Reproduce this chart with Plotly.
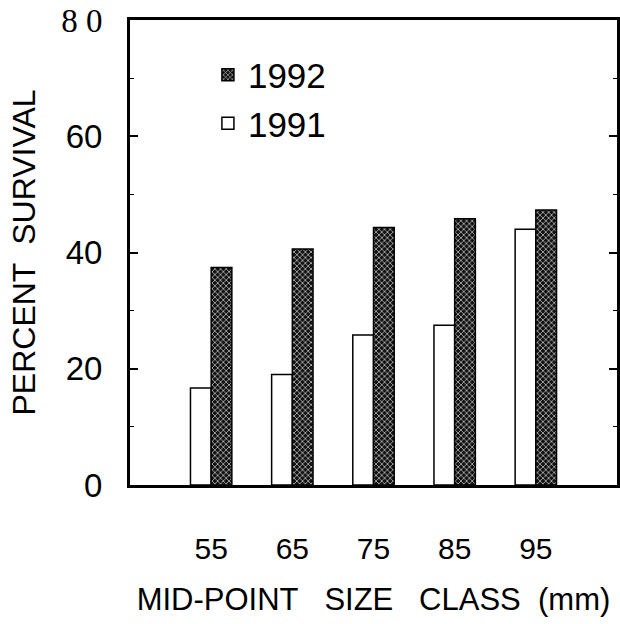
import plotly.graph_objects as go

size_classes = ["55", "65", "75", "85", "95"]
survival_1991 = [16.7, 19.0, 25.8, 27.5, 44.0]
survival_1992 = [37.4, 40.6, 44.3, 45.8, 47.3]
y_tickvals = [0, 20, 40, 60, 80]
y_ticktext = ["0", "20", "40", "60",
              '<span style="font-family:\'Liberation Serif\'">8 0</span>']

SANS = "Liberation Sans"

fig = go.Figure()
fig.add_trace(go.Bar(
    name="1991", x=size_classes, y=survival_1991,
    marker=dict(color="white", line=dict(color="black", width=1.5)),
))
fig.add_trace(go.Bar(
    name="1992", x=size_classes, y=survival_1992,
    marker=dict(
        color="#222222",
        line=dict(color="black", width=1.5),
        pattern=dict(shape="x", bgcolor="#111111", fgcolor="#e0e0e0",
                     size=4, solidity=0.3, fillmode="replace"),
    ),
))

fig.update_layout(
    width=620, height=624,
    margin=dict(l=130, r=0, t=20, b=139),
    paper_bgcolor="white", plot_bgcolor="white",
    barmode="group", bargap=0.49, bargroupgap=0,
    showlegend=True,
    legend=dict(
        x=0.16, y=0.945, xanchor="left", yanchor="top",
        traceorder="reversed", bgcolor="rgba(0,0,0,0)",
        font=dict(family=SANS, size=35, color="black"),
        itemwidth=30, tracegroupgap=0,
    ),
    font=dict(family=SANS, color="black"),
    xaxis=dict(
        type="category", range=[-1, 5],
        showline=True, linecolor="black", linewidth=3, mirror=True,
        ticks="", showgrid=False, zeroline=False,
        tickfont=dict(family=SANS, size=30, color="black"),
        ticklabelstandoff=35,
        title=dict(text="MID-POINT\u00a0\u00a0\u00a0SIZE\u00a0\u00a0\u00a0CLASS\u00a0\u00a0(mm)",
                   font=dict(family=SANS, size=31, color="black"), standoff=25),
    ),
    yaxis=dict(
        range=[0, 80], tickvals=y_tickvals, ticktext=y_ticktext,
        showline=True, linecolor="black", linewidth=3, mirror="ticks",
        ticks="inside", ticklen=8, tickwidth=1.5, tickcolor="black",
        minor=dict(dtick=10, ticks="inside", ticklen=4, tickwidth=1, tickcolor="black"),
        showgrid=False, zeroline=False,
        tickfont=dict(family=SANS, size=33, color="black"),
        ticklabelstandoff=18,
        title=dict(text="PERCENT\u00a0\u00a0SURVIVAL",
                   font=dict(family=SANS, size=32, color="black"), standoff=16),
    ),
)

fig.write_html(
    "out.html",
    config={"displayModeBar": False},
    post_script="document.body.style.margin='0';document.body.style.overflow='hidden';",
)
